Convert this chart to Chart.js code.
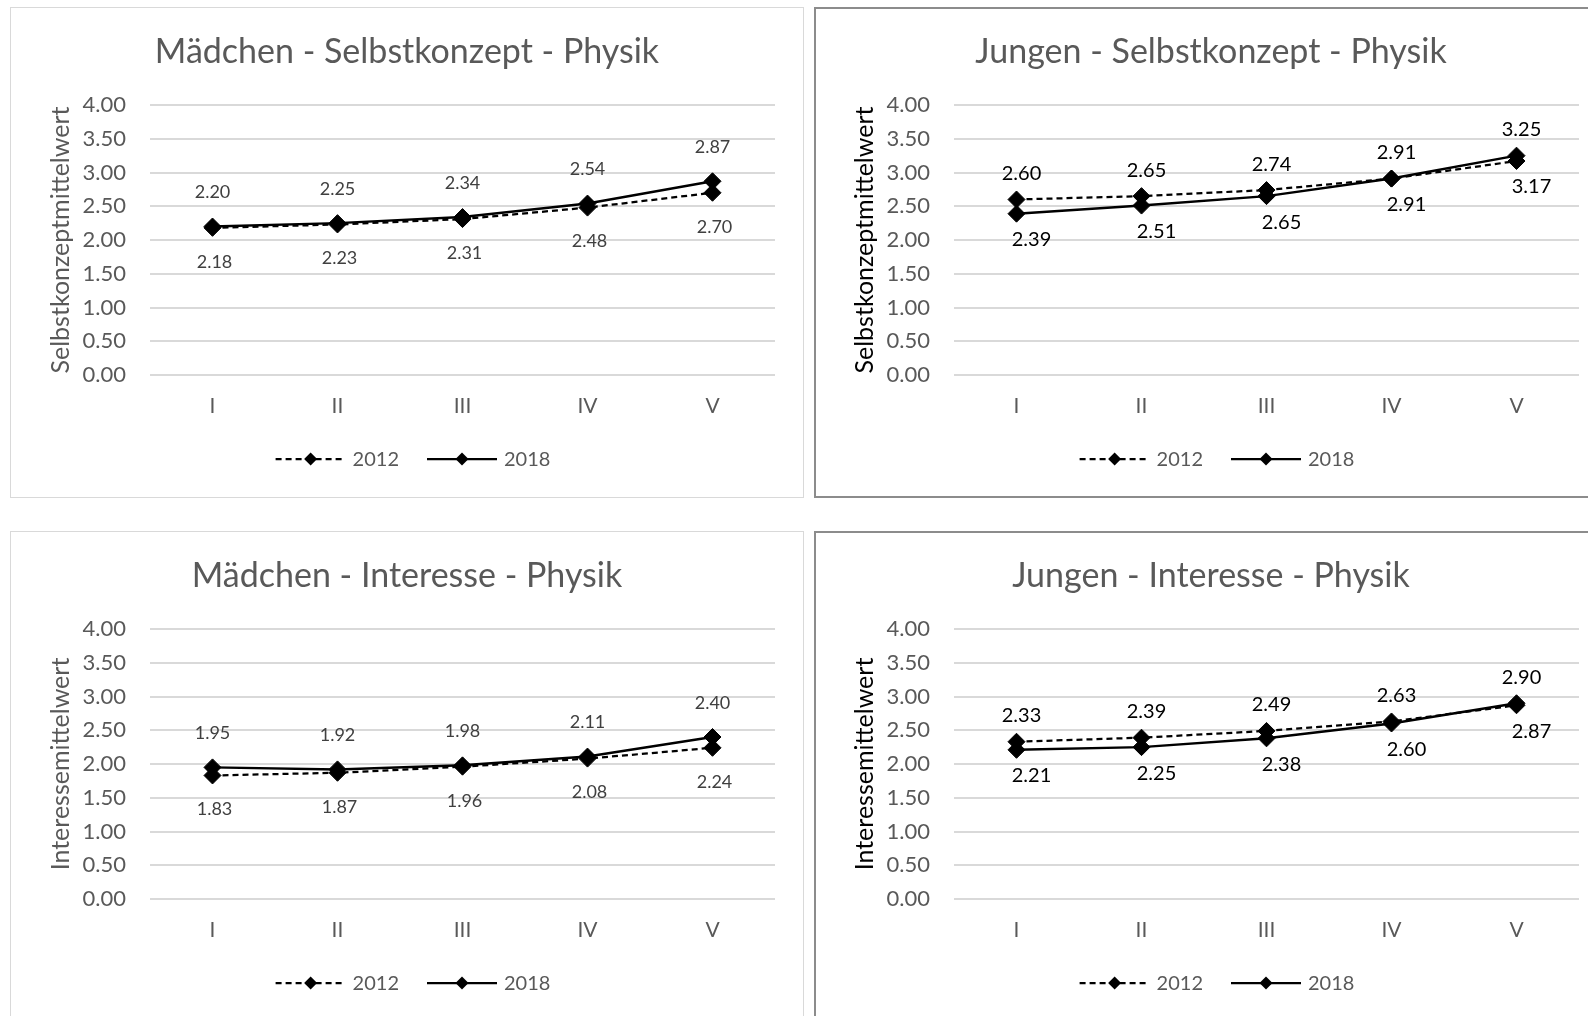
<!DOCTYPE html>
<html>
<head>
<meta charset="utf-8">
<script src="https://cdn.jsdelivr.net/npm/chart.js@4.4.1/dist/chart.umd.min.js"></script>
<style>
  body { margin: 0; background: #fff; width: 1588px; height: 1016px; overflow: hidden; position: relative; }
  .panel { position: absolute; width: 794px; height: 491px; background: #fff; }
  .panel canvas { position: absolute; left: 0; top: 0; }
  .light { box-shadow: inset 0 0 0 1px #d9d9d9; }
  .dark { box-shadow: inset 0 0 0 2px #8c8c8c; }
</style>
</head>
<body>
<div class="panel light" style="left:10px;top:7px"><canvas id="c1" width="794" height="491"></canvas></div>
<div class="panel dark" style="left:814px;top:7px"><canvas id="c2" width="794" height="491"></canvas></div>
<div class="panel light" style="left:10px;top:531px"><canvas id="c3" width="794" height="491"></canvas></div>
<div class="panel dark" style="left:814px;top:531px"><canvas id="c4" width="794" height="491"></canvas></div>
<script>
// categories and values
const categories = ['I', 'II', 'III', 'IV', 'V'];
const years = ['2012', '2018'];

const girlsSelf2012 = [2.18, 2.23, 2.31, 2.48, 2.70];
const girlsSelf2018 = [2.20, 2.25, 2.34, 2.54, 2.87];
const boysSelf2012 = [2.60, 2.65, 2.74, 2.91, 3.17];
const boysSelf2018 = [2.39, 2.51, 2.65, 2.91, 3.25];
const girlsInt2012 = [1.83, 1.87, 1.96, 2.08, 2.24];
const girlsInt2018 = [1.95, 1.92, 1.98, 2.11, 2.40];
const boysInt2012 = [2.33, 2.39, 2.49, 2.63, 2.87];
const boysInt2018 = [2.21, 2.25, 2.38, 2.60, 2.90];

const yMin = 0, yMax = 4, yStep = 0.5;

Chart.defaults.font.family = 'Lato';
Chart.defaults.color = '#595959';

// value labels: the higher of the two series gets its label above the marker
const valueLabels = {
  id: 'valueLabels',
  afterDatasetsDraw(chart, args, opts) {
    const ctx = chart.ctx;
    const sets = chart.data.datasets;
    ctx.save();
    ctx.font = opts.size + 'px Lato';
    ctx.fillStyle = opts.color;
    ctx.textAlign = 'center';
    ctx.textBaseline = 'middle';
    sets.forEach((ds, i) => {
      const other = sets[1 - i].data;
      chart.getDatasetMeta(i).data.forEach((pt, j) => {
        const v = ds.data[j];
        const up = v > other[j] || (v === other[j] && i === 0);
        const dx = up ? opts.dxUp : opts.dxDown;
        const dy = up ? -opts.up : opts.down;
        ctx.fillText(v.toFixed(2), pt.x + dx, pt.y + dy);
      });
    });
    ctx.restore();
  }
};

// legend with line - diamond - line samples like the office chart
const lineLegend = {
  id: 'lineLegend',
  afterDraw(chart, args, opts) {
    const ctx = chart.ctx;
    const sample = 70, gap = 7, between = 28;
    ctx.save();
    ctx.font = '20px Lato';
    const items = chart.data.datasets.map(ds => ({ ds, w: ctx.measureText(ds.label).width }));
    const total = items.reduce((s, it) => s + sample + gap + it.w, 0) + between * (items.length - 1);
    let x = chart.width / 2 + 6 - total / 2;
    const y = opts.y;
    items.forEach(it => {
      ctx.strokeStyle = '#000';
      ctx.lineWidth = 2.25;
      ctx.setLineDash(it.ds.borderDash || []);
      ctx.beginPath();
      ctx.moveTo(x, y);
      ctx.lineTo(x + sample, y);
      ctx.stroke();
      ctx.setLineDash([]);
      ctx.fillStyle = '#000';
      Chart.helpers.drawPoint(ctx, { pointStyle: 'rectRot', radius: 6.5, borderWidth: 0 }, x + sample / 2, y);
      ctx.fillStyle = '#595959';
      ctx.textAlign = 'left';
      ctx.textBaseline = 'middle';
      ctx.fillText(it.ds.label, x + sample + gap, y + 1);
      x += sample + gap + it.w + between;
    });
    ctx.restore();
  }
};

function makeChart(id, title, axisTitle, s2012, s2018, boys) {
  new Chart(document.getElementById(id), {
    type: 'line',
    data: {
      labels: categories,
      datasets: [
        {
          label: years[0], data: s2012,
          borderColor: '#000', borderWidth: 2.25, borderDash: [6, 4],
          pointStyle: 'rectRot', pointRadius: 8.5, pointBackgroundColor: '#000', pointBorderColor: '#000', pointBorderWidth: 1
        },
        {
          label: years[1], data: s2018,
          borderColor: '#000', borderWidth: 2.5,
          pointStyle: 'rectRot', pointRadius: 8.5, pointBackgroundColor: '#000', pointBorderColor: '#000', pointBorderWidth: 1
        }
      ]
    },
    options: {
      responsive: false,
      animation: false,
      devicePixelRatio: 1,
      layout: { padding: { left: 29, right: 29, top: 0, bottom: 61 } },
      plugins: {
        legend: { display: false },
        tooltip: { enabled: false },
        title: {
          display: true, text: title, color: '#595959',
          font: { size: 34, weight: 'normal', lineHeight: 1 },
          padding: { top: 28, bottom: 36 }
        },
        valueLabels: boys
          ? { size: 20, color: '#000', up: 26, down: 26, dxUp: 5, dxDown: 15 }
          : { size: 18, color: '#404040', up: 34, down: 34, dxUp: 0, dxDown: 2 },
        lineLegend: { y: 452 }
      },
      scales: {
        x: {
          offset: true,
          grid: { display: false, drawTicks: false },
          border: { display: false },
          ticks: { color: '#595959', font: { size: 21, lineHeight: 1 }, padding: 20.5 }
        },
        y: {
          min: yMin, max: yMax,
          afterFit(scale) { scale.width = 111; },
          grid: { color: '#d9d9d9', lineWidth: 2, drawTicks: false },
          border: { display: false },
          ticks: {
            stepSize: yStep, color: '#595959', padding: 24,
            font: { size: 22, lineHeight: 1 },
            callback: v => v.toFixed(2)
          },
          title: {
            display: true, text: axisTitle, color: boys ? '#000' : '#595959',
            font: { size: 25, lineHeight: 1 },
            padding: { top: 9, bottom: 0 }
          }
        }
      }
    },
    plugins: [valueLabels, lineLegend]
  });
}

makeChart('c1', 'Mädchen - Selbstkonzept - Physik', 'Selbstkonzeptmittelwert', girlsSelf2012, girlsSelf2018, false);
makeChart('c2', 'Jungen - Selbstkonzept - Physik', 'Selbstkonzeptmittelwert', boysSelf2012, boysSelf2018, true);
makeChart('c3', 'Mädchen - Interesse - Physik', 'Interessemittelwert', girlsInt2012, girlsInt2018, false);
makeChart('c4', 'Jungen - Interesse - Physik', 'Interessemittelwert', boysInt2012, boysInt2018, true);
</script>
</body>
</html>
